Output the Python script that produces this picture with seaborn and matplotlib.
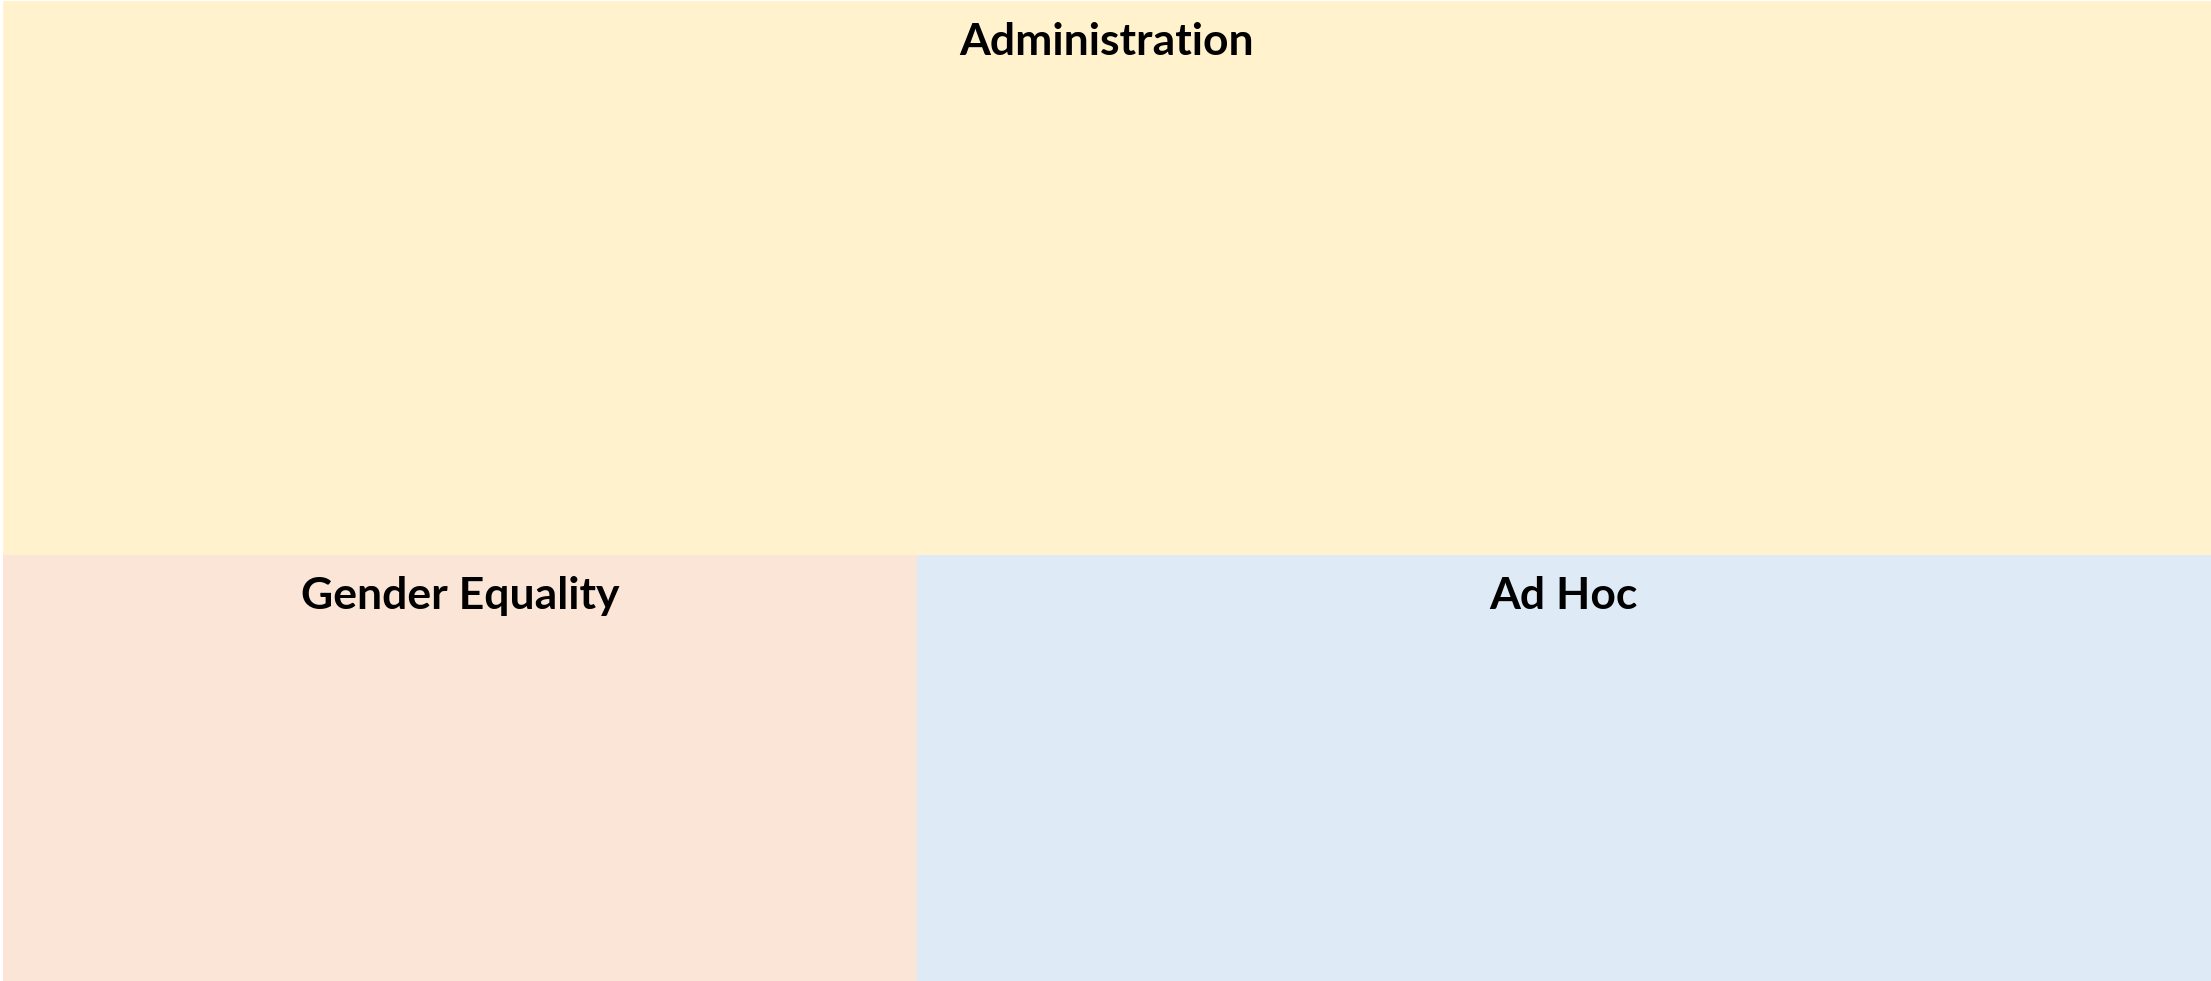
"""
Treemap of activity areas drawn as nested rectangles.
"""

import matplotlib
matplotlib.use('Agg')
import matplotlib.pyplot as plt
from matplotlib.patches import Rectangle
import seaborn as sns

# Data
categories = ['Administration', 'Gender Equality', 'Ad Hoc']
values = [56.5, 18.0, 25.5]
colors = ['#FFF2CC', '#FBE5D6', '#DEEBF7']


def layout_treemap(values):
    """First item takes a full-width strip on top, the rest split the bottom strip."""
    total = sum(values)
    top_h = values[0] / total
    rects = [(0.0, 1.0 - top_h, 1.0, top_h)]
    rest = sum(values[1:])
    x = 0.0
    for v in values[1:]:
        w = v / rest
        rects.append((x, 0.0, w, 1.0 - top_h))
        x += w
    return rects


def main():
    sns.set_theme(style='white')
    plt.rcParams['font.family'] = ['Lato', 'DejaVu Sans']

    fig = plt.figure(figsize=(22.11, 9.81), dpi=100)
    ax = fig.add_axes([3 / 2211, 0, 1 - 3 / 2211, 1 - 1 / 981])
    ax.set_xlim(0, 1)
    ax.set_ylim(0, 1)
    ax.axis('off')

    for name, color, (x, y, w, h) in zip(categories, colors, layout_treemap(values)):
        ax.add_patch(Rectangle((x, y), w, h, facecolor=color, edgecolor='none'))
        ax.annotate(name, xy=(x + w / 2, y + h), xytext=(0, -39),
                    textcoords='offset points', ha='center', va='baseline',
                    fontsize=32, fontweight='bold', color='black')

    fig.savefig('out.png', dpi=100, facecolor='white')
    plt.close(fig)


if __name__ == '__main__':
    main()
